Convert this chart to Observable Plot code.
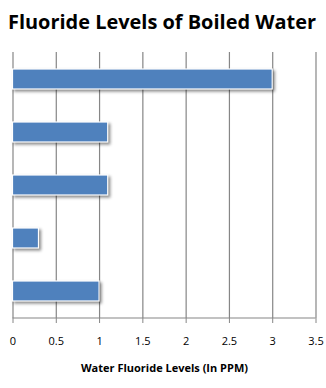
<!DOCTYPE html>
<html>
<head>
<meta charset="utf-8">
<script src="https://cdn.jsdelivr.net/npm/d3@7"></script>
<script src="https://cdn.jsdelivr.net/npm/@observablehq/plot@0.6"></script>
<style>
  html, body { margin: 0; padding: 0; background: #fff; }
  #chart svg { display: block; }
</style>
</head>
<body>
<div id="chart"></div>
<script>
const categories = ["Sample 1", "Sample 2", "Sample 3", "Sample 4", "Sample 5"];
const values = [3.0, 1.1, 1.1, 0.3, 1.0];
const xTicks = [0, 0.5, 1, 1.5, 2, 2.5, 3, 3.5];
const titleText = "Fluoride Levels of Boiled Water";
const xLabel = "Water Fluoride Levels (In PPM)";

const data = categories.map((c, i) => ({category: c, value: values[i]}));

const W = 326, H = 388;
const plot = Plot.plot({
  width: W,
  height: H,
  marginLeft: 12.5,
  marginRight: 10.5,
  marginTop: 52,
  marginBottom: 70,
  style: {fontFamily: "'Open Sans', sans-serif", fontSize: "11px", color: "#000", background: "#fff"},
  x: {domain: [0, 3.5], ticks: xTicks, label: null},
  y: {domain: categories, paddingInner: 0.615, paddingOuter: 0.3075, axis: null},
  marks: [
    Plot.ruleX(xTicks, {stroke: "#868686", strokeWidth: 1.2}),
    Plot.barX(data, {y: "category", x: "value", fill: "#4F81BD", stroke: "#fff", strokeWidth: 1.2}),
    Plot.axisX({ticks: xTicks, tickSize: 5, tickPadding: 14, stroke: "#868686", tickFormat: d => String(d), fill: "#000"}),
    Plot.axisX({ticks: [], label: xLabel, labelAnchor: "center", labelOffset: 53, labelArrow: "none", fontWeight: "bold", tickSize: 0})
  ]
});
document.getElementById("chart").appendChild(plot);

const svg = d3.select(plot);
// bottom axis line
const x = plot.scale("x");
svg.append("line")
  .attr("x1", x.apply(0)).attr("x2", x.apply(3.5))
  .attr("y1", H - 70).attr("y2", H - 70)
  .attr("stroke", "#868686").attr("stroke-width", 1.2);
// bar shadow
svg.selectAll("g[aria-label=bar]").style("filter", "drop-shadow(2px 2px 1.5px rgba(0,0,0,0.45))");
// title
svg.append("text")
  .attr("x", 8).attr("y", 29)
  .attr("text-anchor", "start")
  .attr("textLength", 308).attr("lengthAdjust", "spacingAndGlyphs")
  .style("font-family", "'Open Sans', sans-serif")
  .style("font-weight", "bold")
  .style("font-size", "20px")
  .attr("fill", "#000")
  .text(titleText);
</script>
</body>
</html>
